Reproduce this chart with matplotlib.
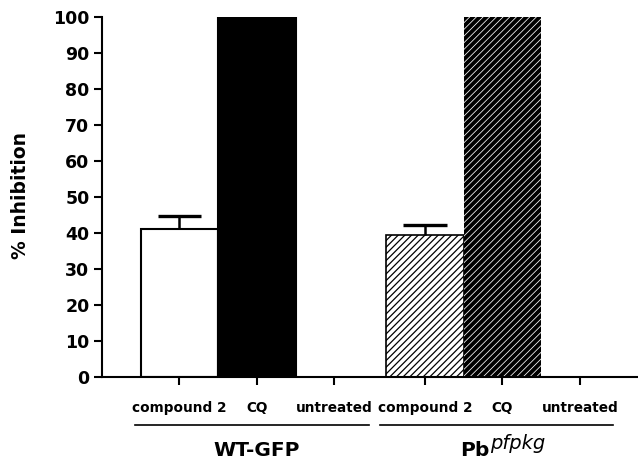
import matplotlib
matplotlib.use("Agg")
import matplotlib.pyplot as plt
import matplotlib.transforms as mtransforms

# data
treatments = ["compound 2", "CQ", "untreated"]
groups = ["WT-GFP", "Pb"]
wt_values = [41.0, 100.0, 0.0]
wt_errors = [3.7, 0.0, 0.0]
pb_values = [39.4, 100.0, 0.0]
pb_errors = [2.8, 0.0, 0.0]

plt.rcParams['font.family'] = ['DejaVu Sans']
plt.rcParams['font.weight'] = 'bold'

fig = plt.figure(figsize=(6.38, 4.61), dpi=100)
ax = fig.add_axes([102 / 638, 1 - 377 / 461, 1 - 102 / 638, (377 - 17) / 461])

wt_x = [0, 1, 2]
pb_x = [3.17, 4.17, 5.17]

# WT-GFP bars
ax.bar(wt_x[0], wt_values[0], width=1.0, color='white', edgecolor='black', linewidth=1.5)
ax.bar(wt_x[1], wt_values[1], width=1.0, color='black', edgecolor='black', linewidth=1.5)
ax.bar(wt_x[2], wt_values[2], width=1.0, color='white', edgecolor='none')

# Pb pfpkg bars (hatched)
plt.rcParams['hatch.linewidth'] = 0.9
ax.bar(pb_x[0], pb_values[0], width=1.0, color='white', edgecolor='black', linewidth=1.2, hatch='/////')
plt.rcParams['hatch.linewidth'] = 0.55
ax.bar(pb_x[1], pb_values[1], width=1.0, color='black', edgecolor='white', linewidth=0, hatch='/////')
ax.bar(pb_x[2], pb_values[2], width=1.0, color='white', edgecolor='none')

# upper error bars only (stem + top cap)
cap_half = 0.28
for xs, vals, errs in [(wt_x, wt_values, wt_errors), (pb_x, pb_values, pb_errors)]:
    top = vals[0] + errs[0]
    ax.vlines(xs[0], vals[0], top, color='black', lw=1.8, zorder=1)
    ax.hlines(top, xs[0] - cap_half, xs[0] + cap_half, color='black', lw=2.4, zorder=3)

ax.set_xlim(-1.0, 5.92)
ax.set_ylim(0, 100)
ax.set_yticks(range(0, 101, 10))
ax.set_xticks(wt_x + pb_x)
ax.set_xticklabels([])
ax.spines['top'].set_visible(False)
ax.spines['right'].set_visible(False)
ax.spines['left'].set_linewidth(1.5)
ax.spines['bottom'].set_linewidth(1.5)
ax.tick_params(axis='y', length=6, width=1.5, labelsize=12.5, pad=3)
ax.tick_params(axis='x', length=6, width=1.5)
for lbl in ax.get_yticklabels():
    lbl.set_fontweight('bold')

ax.set_ylabel("% Inhibition", fontsize=13.5, fontweight='bold')
ax.yaxis.set_label_coords((30 - 102) / (638 - 102), (377 - 195) / 360)

# category labels, group lines and group names below the axis
trans = mtransforms.blended_transform_factory(ax.transData, fig.transFigure)
for xs in [wt_x, pb_x]:
    for x, name in zip(xs, treatments):
        ax.text(x, 1 - 411.7 / 461, name, transform=trans, ha='center', va='baseline',
                fontsize=9.8, fontweight='bold')

line_y = 1 - 425 / 461
ax.plot([-0.574, 2.447], [line_y, line_y], color='black', lw=1.2, transform=trans, clip_on=False)
ax.plot([2.59, 5.6], [line_y, line_y], color='black', lw=1.2, transform=trans, clip_on=False)

ax.text(1.0, 1 - 455.7 / 461, groups[0], transform=trans, ha='center', va='baseline',
        fontsize=14.5, fontweight='bold')
ax.text(4.0, 1 - 455.7 / 461, groups[1], transform=trans, ha='right', va='baseline',
        fontsize=14.5, fontweight='bold')
ax.text(4.01, 1 - 449 / 461, "pfpkg", transform=trans, ha='left', va='baseline',
        fontsize=14, fontweight='normal', fontstyle='italic')

fig.savefig("out.png", dpi=100)
